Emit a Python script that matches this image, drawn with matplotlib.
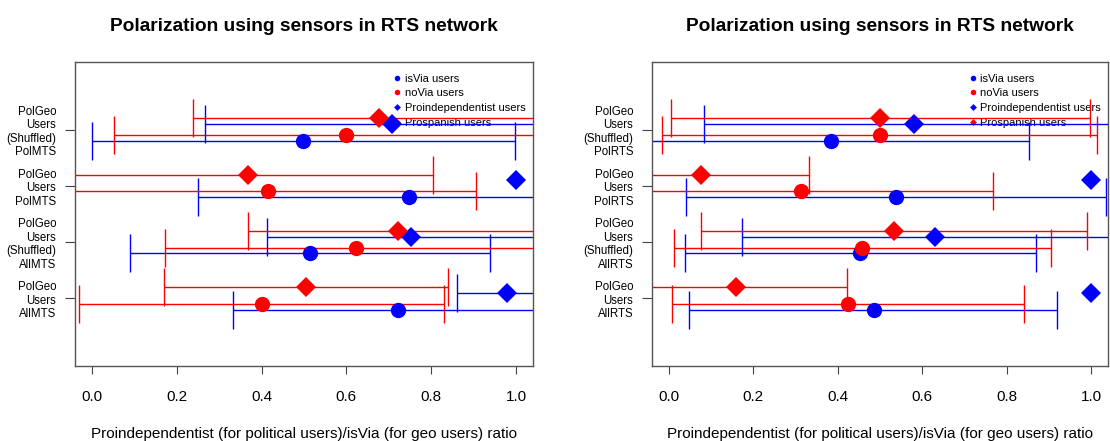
import numpy as np
import matplotlib
matplotlib.use('Agg')
import matplotlib.pyplot as plt
from matplotlib.lines import Line2D
from matplotlib.ticker import FormatStrFormatter

plt.rcParams['font.family'] = ['Liberation Sans', 'DejaVu Sans']

title = "Polarization using sensors in RTS network"
xlabel = "Proindependentist (for political users)/isVia (for geo users) ratio"
series_names = ['isVia users', 'noVia users', 'Proindependentist users', 'Prospanish users']

# groups are listed bottom to top
labels_mts = ['PolGeo\nUsers\nAllMTS', 'PolGeo\nUsers\n(Shuffled)\nAllMTS',
              'PolGeo\nUsers\nPolMTS', 'PolGeo\nUsers\n(Shuffled)\nPolMTS']
labels_rts = ['PolGeo\nUsers\nAllRTS', 'PolGeo\nUsers\n(Shuffled)\nAllRTS',
              'PolGeo\nUsers\nPolRTS', 'PolGeo\nUsers\n(Shuffled)\nPolRTS']

nan = np.nan

# MTS panel (left)
mts_isvia = [0.722, 0.515, 0.748, 0.498]
mts_isvia_lo = [0.332, 0.089, 0.249, 0.001]
mts_isvia_hi = [1.10, 0.939, 1.10, 0.997]
mts_novia = [0.400, 0.623, 0.416, 0.598]
mts_novia_lo = [-0.030, 0.172, -0.10, 0.051]
mts_novia_hi = [0.830, 1.10, 0.906, 1.10]
mts_proind = [0.978, 0.753, 1.0, 0.707]
mts_proind_lo = [0.860, 0.412, nan, 0.267]
mts_proind_hi = [1.10, 1.10, nan, 1.10]
mts_prosp = [0.505, 0.721, 0.368, 0.677]
mts_prosp_lo = [0.170, 0.368, -0.10, 0.239]
mts_prosp_hi = [0.840, 1.10, 0.804, 1.10]

# RTS panel (right)
rts_isvia = [0.485, 0.453, 0.539, 0.384]
rts_isvia_lo = [0.048, 0.039, 0.041, -0.10]
rts_isvia_hi = [0.920, 0.869, 1.035, 0.853]
rts_novia = [0.424, 0.458, 0.314, 0.500]
rts_novia_lo = [0.008, 0.012, -0.10, -0.016]
rts_novia_hi = [0.842, 0.904, 0.767, 1.015]
rts_proind = [1.0, 0.630, 1.0, 0.581]
rts_proind_lo = [nan, 0.172, nan, 0.084]
rts_proind_hi = [nan, 1.10, nan, 1.10]
rts_prosp = [0.160, 0.533, 0.076, 0.501]
rts_prosp_lo = [-0.10, 0.076, -0.10, 0.006]
rts_prosp_hi = [0.421, 0.990, 0.331, 0.997]

colors = ['#0000ff', '#ff0000', '#0000ff', '#ff0000']
markers = ['o', 'o', 'D', 'D']
msizes = [11, 11, 10, 10]
offsets = [-0.2, -0.1, 0.1, 0.2]


def draw_panel(ax, labels, means, los, his):
    pos = np.arange(1, len(labels) + 1)
    for k in range(4):
        m = np.array(means[k], dtype=float)
        lo = np.array(los[k], dtype=float)
        hi = np.array(his[k], dtype=float)
        y = pos + offsets[k]
        ok = ~np.isnan(lo)
        ax.errorbar(m[ok], y[ok], xerr=[m[ok] - lo[ok], hi[ok] - m[ok]], fmt='none',
                    ecolor=colors[k], elinewidth=1.0, capsize=14, capthick=1.0, zorder=2)
    for k in range(4):
        y = pos + offsets[k]
        ax.plot(means[k], y, ls='none', marker=markers[k], ms=msizes[k],
                color=colors[k], mew=0, zorder=3)

    ax.set_xlim(-0.04, 1.04)
    ax.set_ylim(-0.2, 5.2)
    ax.set_xticks([0, 0.2, 0.4, 0.6, 0.8, 1.0])
    ax.xaxis.set_major_formatter(FormatStrFormatter('%.1f'))
    ax.set_yticks(pos)
    ax.set_yticklabels(labels, fontsize=8.3)
    for lbl in ax.get_yticklabels():
        lbl.set_linespacing(1.17)
    ax.tick_params(axis='x', labelsize=11, length=6, pad=11, color='#444444')
    ax.tick_params(axis='y', length=7.5, pad=6, color='#444444')
    for s in ax.spines.values():
        s.set_color('#555555')
        s.set_linewidth(1.0)
    ax.set_title(title, fontsize=13.8, fontweight='bold', pad=22)
    ax.set_xlabel(xlabel, fontsize=11, labelpad=17)

    handles = [Line2D([], [], ls='none', marker=markers[k], ms=4 if markers[k] == 'o' else 3.5,
                      color=colors[k], mew=0) for k in range(4)]
    leg = ax.legend(handles, series_names, loc='upper left', bbox_to_anchor=(0.698, 0.962),
                    frameon=False, fontsize=8, handlelength=0.4, handletextpad=0.5,
                    borderpad=0, borderaxespad=0, labelspacing=0.42)
    leg.set_zorder(1.5)


fig = plt.figure(figsize=(11.1, 4.41), dpi=100)
ax1 = fig.add_axes([75 / 1110, 1 - 366 / 441, 458 / 1110, 304 / 441])
ax2 = fig.add_axes([652 / 1110, 1 - 366 / 441, 456 / 1110, 304 / 441])

draw_panel(ax1, labels_mts,
           [mts_isvia, mts_novia, mts_proind, mts_prosp],
           [mts_isvia_lo, mts_novia_lo, mts_proind_lo, mts_prosp_lo],
           [mts_isvia_hi, mts_novia_hi, mts_proind_hi, mts_prosp_hi])
draw_panel(ax2, labels_rts,
           [rts_isvia, rts_novia, rts_proind, rts_prosp],
           [rts_isvia_lo, rts_novia_lo, rts_proind_lo, rts_prosp_lo],
           [rts_isvia_hi, rts_novia_hi, rts_proind_hi, rts_prosp_hi])

fig.savefig('out.png', dpi=100)
